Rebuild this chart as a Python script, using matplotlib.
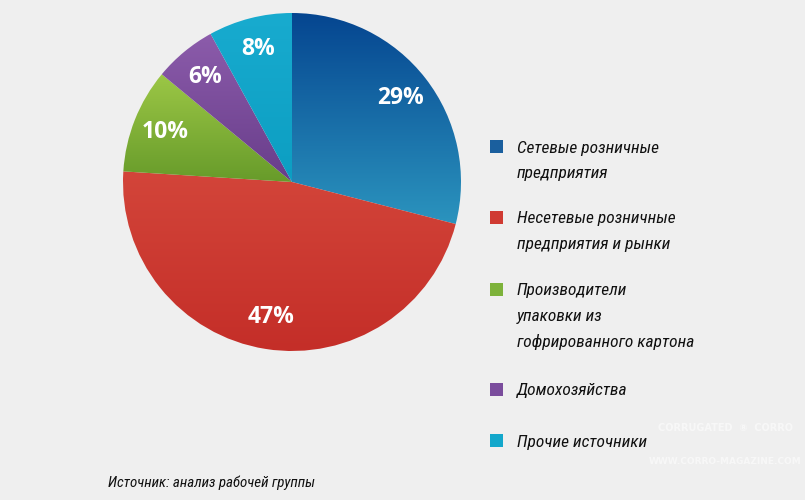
import numpy as np
import matplotlib
matplotlib.use("Agg")
import matplotlib.pyplot as plt
from matplotlib.colors import LinearSegmentedColormap
from matplotlib.patches import Rectangle

# Data
labels = [
    "Сетевые розничные\nпредприятия",
    "Несетевые розничные\nпредприятия и рынки",
    "Производители\nупаковки из\nгофрированного картона",
    "Домохозяйства",
    "Прочие источники",
]
shares = [29, 47, 10, 6, 8]
# (top colour, bottom colour) for the gradient of each slice
grad_colors = [
    ("#054590", "#2b94be"),
    ("#d3453a", "#c42e28"),
    ("#9cc746", "#679b2a"),
    ("#8c5cab", "#683d8a"),
    ("#18abcf", "#0c9ec2"),
]
legend_colors = ["#1a5f9e", "#d03a32", "#7db23a", "#7a4c9c", "#13a7cb"]
source_text = "Источник: анализ рабочей группы"

bg = "#efefef"
cond_font = ["Roboto Condensed", "Open Sans Condensed", "DejaVu Sans"]

fig = plt.figure(figsize=(8.05, 5.0), dpi=100, facecolor=bg)

# pie axes: centre ~ (292, 182) px, radius ~169 px
r_px = 169
cx, cy = 292, 182
ax = fig.add_axes([(cx - r_px) / 805, (500 - cy - r_px) / 500, 2 * r_px / 805, 2 * r_px / 500])
ax.set_facecolor(bg)

wedges, _ = ax.pie(
    shares,
    startangle=90,
    counterclock=False,
    radius=1,
    wedgeprops=dict(linewidth=0),
)
ax.set_xlim(-1, 1)
ax.set_ylim(-1, 1)
ax.set_aspect("equal")
ax.axis("off")

for w, (c_top, c_bot) in zip(wedges, grad_colors):
    ext = w.get_path().get_extents()
    cmap = LinearSegmentedColormap.from_list("g", [c_bot, c_top])
    grad = np.linspace(0, 1, 256).reshape(-1, 1)
    im = ax.imshow(
        grad,
        cmap=cmap,
        origin="lower",
        aspect="auto",
        extent=(ext.x0, ext.x1, ext.y0, ext.y1),
        zorder=2,
    )
    im.set_clip_path(w)
    w.set_facecolor("none")

# percentage labels
start = 90.0
for s in shares:
    mid = np.deg2rad(start - s * 3.6 / 2)
    start -= s * 3.6
    d = 0.81
    ax.text(
        d * np.cos(mid),
        d * np.sin(mid),
        f"{s}%",
        ha="center",
        va="center",
        color="white",
        fontsize=16.5,
        fontweight="bold",
        family=["Open Sans", "DejaVu Sans"],
        zorder=5,
    )

# legend (square tops in px from the top of the figure)
sq = 13
line_gap = 25.5
block_tops = [140, 211, 283, 383, 434]
for lab, col, y in zip(labels, legend_colors, block_tops):
    fig.patches.append(
        Rectangle((490 / 805, 1 - (y + sq) / 500), sq / 805, sq / 500,
                  transform=fig.transFigure, facecolor=col, edgecolor="none")
    )
    for i, ln in enumerate(lab.split("\n")):
        fig.text(
            517 / 805,
            1 - (y + 8 + i * line_gap) / 500,
            ln,
            ha="left",
            va="center",
            fontsize=12.5,
            style="oblique",
            fontstretch="condensed",
            family=cond_font,
            color="#111111",
        )

# faint watermark
fig.text(725 / 805, 1 - 428 / 500, "CORRUGATED  ⑧  CORRO", ha="center", va="center",
         fontsize=7, fontweight="bold", color="white", alpha=0.55)
fig.text(725 / 805, 1 - 462 / 500, "WWW.CORRO-MAGAZINE.COM", ha="center", va="center",
         fontsize=6.5, fontweight="bold", color="white", alpha=0.55)

# source
fig.text(108 / 805, 1 - 483 / 500, source_text, ha="left", va="center",
         fontsize=10.8, style="oblique", fontstretch="condensed",
         family=cond_font, color="#111111")

fig.savefig("out.png", dpi=100, facecolor=bg)
